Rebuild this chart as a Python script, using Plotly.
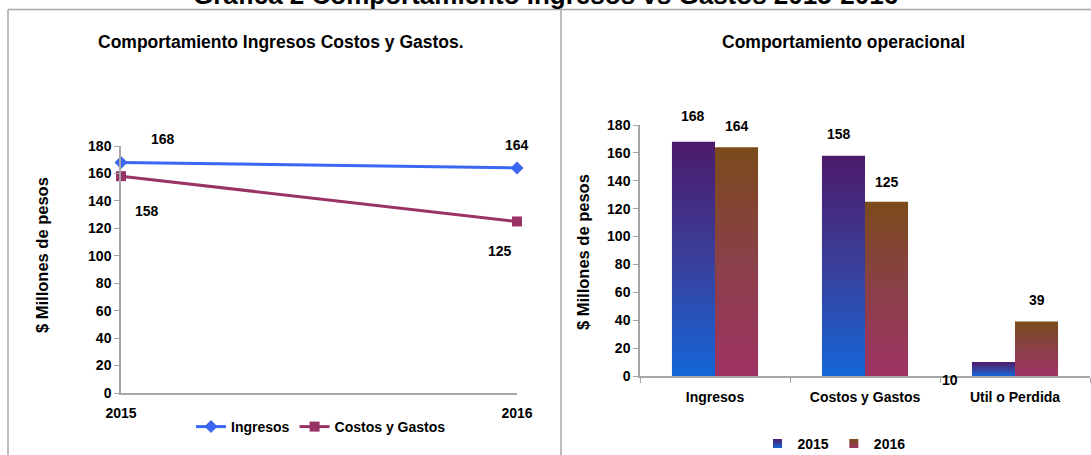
import plotly.graph_objects as go

# ---- data ----
years = [2015, 2016]
ingresos = [168, 164]
costos_gastos = [158, 125]

categorias = ["Ingresos", "Costos y Gastos", "Util o Perdida"]
valores_2015 = [168, 158, 10]
valores_2016 = [164, 125, 39]

y_ticks = list(range(0, 181, 20))

W, H = 1091, 455
FONT = "Liberation Sans"
BLUE = "#3a66f2"
PLUM = "#993366"
GRAY = "#a6a6a6"


def px(x):
    return x / W


def py(y):
    return 1 - y / H


def bold(size):
    return dict(family=FONT, size=size, color="black", weight="bold")


fig = go.Figure()

# ---- left panel: line chart ----
fig.add_trace(go.Scatter(
    x=years, y=ingresos, name="Ingresos", mode="lines+markers",
    line=dict(color=BLUE, width=3), marker=dict(symbol="diamond", size=10, color=BLUE),
    xaxis="x", yaxis="y", cliponaxis=False, legend="legend"))
fig.add_trace(go.Scatter(
    x=years, y=costos_gastos, name="Costos y Gastos", mode="lines+markers",
    line=dict(color=PLUM, width=3), marker=dict(symbol="square", size=10, color=PLUM),
    xaxis="x", yaxis="y", cliponaxis=False, legend="legend"))

# value labels for the lines (offsets in pixels)
line_label_offsets = {
    ("Ingresos", 0): (42, 23), ("Ingresos", 1): (0, 23),
    ("Costos", 0): (26, -35), ("Costos", 1): (-17, -30),
}
annotations = []
for i, yr in enumerate(years):
    for key, vals in (("Ingresos", ingresos), ("Costos", costos_gastos)):
        dx, dy = line_label_offsets[(key, i)]
        annotations.append(dict(
            x=yr, y=vals[i], xref="x", yref="y", text=str(vals[i]),
            xanchor="center", yanchor="middle",
            showarrow=False, xshift=dx, yshift=dy, font=bold(14)))

# ---- right panel: grouped bars with vertical gradient ----
bar_w = 0.287
grad_2015 = [[0, "#1466d8"], [0.5, "#3a3f9a"], [1, "#4c1a6a"]]
grad_2016 = [[0, "#9f3263"], [0.5, "#8a4048"], [1, "#7b4b1b"]]

for i, cat in enumerate(categorias):
    for vals, off, grad, name in ((valores_2015, -bar_w, grad_2015, "2015"),
                                  (valores_2016, 0.0, grad_2016, "2016")):
        x0, x1 = i + off, i + off + bar_w
        v = vals[i]
        fig.add_trace(go.Scatter(
            x=[x0, x1, x1, x0, x0], y=[0, 0, v, v, 0],
            mode="lines", fill="toself", line=dict(width=0),
            fillgradient=dict(type="vertical", colorscale=grad),
            xaxis="x2", yaxis="y2", showlegend=False, hoverinfo="skip",
            name=f"{name} {cat}"))

# legend entries for the bar series
fig.add_trace(go.Scatter(
    x=[None], y=[None], mode="markers", name="2015",
    marker=dict(symbol="square", size=9, color="#4c1a6a",
                gradient=dict(type="vertical", color="#1466d8")),
    xaxis="x2", yaxis="y2", legend="legend2"))
fig.add_trace(go.Scatter(
    x=[None], y=[None], mode="markers", name="2016",
    marker=dict(symbol="square", size=9, color="#7b4b1b",
                gradient=dict(type="vertical", color="#9f3263")),
    xaxis="x2", yaxis="y2", legend="legend2"))

# bar value labels
bar_label_offsets_2015 = [(0, 26), (-4, 22), (-43, -18)]
bar_label_offsets_2016 = [(0, 21), (0, 20), (0, 22)]
for i in range(len(categorias)):
    for vals, off, offs in ((valores_2015, -bar_w / 2, bar_label_offsets_2015),
                            (valores_2016, bar_w / 2, bar_label_offsets_2016)):
        dx, dy = offs[i]
        annotations.append(dict(
            x=i + off, y=vals[i], xref="x2", yref="y2", text=str(vals[i]),
            xanchor="center", yanchor="middle",
            showarrow=False, xshift=dx, yshift=dy, font=bold(14)))

# titles
annotations += [
    dict(x=0.5, y=py(12), xref="paper", yref="paper", xanchor="center", yanchor="bottom",
         text="Grafica 2 Comportamiento Ingresos vs Gastos 2015-2016",
         showarrow=False, font=bold(26)),
    dict(x=px(281), y=py(42), xref="paper", yref="paper", xanchor="center", yanchor="middle",
         text="Comportamiento Ingresos Costos y Gastos.",
         showarrow=False, font=bold(17.5)),
    dict(x=px(843), y=py(42), xref="paper", yref="paper", xanchor="center", yanchor="middle",
         text="Comportamiento operacional",
         showarrow=False, font=bold(17.5)),
    dict(x=px(42), y=py(255), xref="paper", yref="paper", xanchor="center", yanchor="middle",
         textangle=-90, text="$ Millones de pesos",
         showarrow=False, font=bold(16.5)),
    dict(x=px(583), y=py(252), xref="paper", yref="paper", xanchor="center", yanchor="middle",
         textangle=-90, text="$ Millones de pesos",
         showarrow=False, font=bold(16.5)),
]

tickfont = bold(14)

# panel frames
shapes = [
    dict(type="line", xref="paper", yref="paper", x0=px(8), x1=1, y0=py(9.5), y1=py(9.5),
         line=dict(color=GRAY, width=1.5)),
    dict(type="line", xref="paper", yref="paper", x0=px(8), x1=px(8), y0=py(9.5), y1=0,
         line=dict(color=GRAY, width=1.5)),
    dict(type="line", xref="paper", yref="paper", x0=px(561), x1=px(561), y0=py(9.5), y1=0,
         line=dict(color=GRAY, width=1.5)),
]

axis_common = dict(showline=True, linecolor=GRAY, linewidth=1.5, showgrid=False,
                   zeroline=False, tickcolor=GRAY, automargin=False)

fig.update_layout(
    width=W, height=H, margin=dict(l=0, r=0, t=0, b=0, autoexpand=False),
    paper_bgcolor="white", plot_bgcolor="white",
    font=dict(family=FONT, color="black"),
    annotations=annotations, shapes=shapes,
    xaxis=dict(domain=[px(121), px(517)], range=[2015, 2016], anchor="y",
               tickvals=years, ticktext=[str(y) for y in years],
               ticks="inside", ticklen=5, ticklabelstandoff=6,
               tickfont=tickfont, **axis_common),
    yaxis=dict(domain=[py(393), py(146)], range=[0, 180], anchor="x",
               tickvals=y_ticks, ticktext=[str(v) for v in y_ticks],
               ticks="outside", ticklen=5, tickfont=tickfont, **axis_common),
    xaxis2=dict(domain=[px(640), px(1090)], range=[-0.5, 2.5], anchor="y2",
                tickvals=[-0.5, 0.5, 1.5, 2.5], showticklabels=False,
                ticks="outside", ticklen=5, **axis_common),
    xaxis3=dict(domain=[px(640), px(1090)], range=[-0.5, 2.5], anchor="y2",
                overlaying="x2", tickvals=[0, 1, 2], ticktext=categorias,
                showline=False, showgrid=False, zeroline=False, automargin=False,
                ticks="outside", ticklen=8, tickcolor="rgba(0,0,0,0)",
                tickfont=tickfont),
    yaxis2=dict(domain=[py(376), py(125)], range=[0, 180], anchor="x2",
                tickvals=y_ticks, ticktext=[str(v) for v in y_ticks],
                ticks="outside", ticklen=5, tickfont=tickfont, **axis_common),
    legend=dict(orientation="h", x=px(321), y=py(427), xanchor="center", yanchor="middle",
                font=bold(14), bgcolor="rgba(0,0,0,0)", itemwidth=30),
    legend2=dict(orientation="h", x=px(834), y=py(444), xanchor="center", yanchor="middle",
                 font=bold(14), bgcolor="rgba(0,0,0,0)", itemwidth=30),
)

# an empty trace on the overlay axis so its category labels render
fig.add_trace(go.Scatter(x=[None], y=[None], xaxis="x3", yaxis="y2", showlegend=False))

fig.write_html("out.html")
